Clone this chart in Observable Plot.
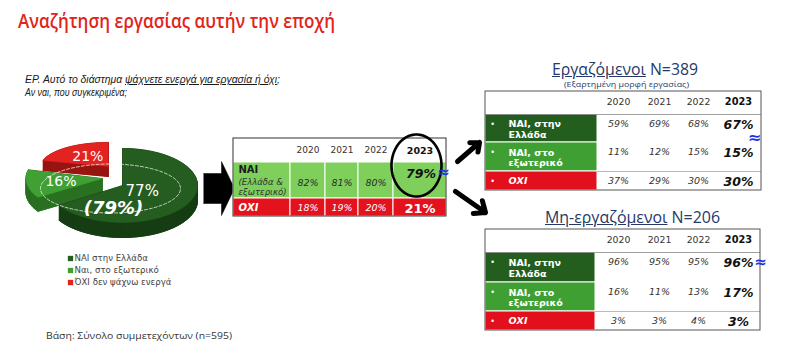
<!DOCTYPE html>
<html><head><meta charset="utf-8">
<script src="https://cdn.jsdelivr.net/npm/d3@7"></script>
<script src="https://cdn.jsdelivr.net/npm/@observablehq/plot@0.6"></script>
<style>
html,body{margin:0;padding:0;background:#fff;}
#wrap{position:relative;width:791px;height:354px;overflow:hidden;}
.t{position:absolute;white-space:nowrap;line-height:1;transform-origin:0 0;}
</style></head>
<body><div id="wrap"></div>
<script>
// ================= DATA =================
const titleText = "Αναζήτηση εργασίας αυτήν την εποχή";
const questionStart = "ΕΡ. Αυτό το διάστημα ";
const questionUnderlined = "ψάχνετε ενεργά για εργασία ή όχι";
const questionEnd = ";";
const questionLine2 = "Αν ναι, που συγκεκριμένα;";
const baseText = "Βάση: Σύνολο συμμετεχόντων (n=595)";

const pieCategories = ["ΝΑΙ στην Ελλάδα", "Ναι, στο εξωτερικό", "ΌΧΙ δεν ψάχνω ενεργά"];
const pieSlices = [66, 13, 21];
const pieLabels = ["77%", "16%", "21%"];
const pieTotalLabel = "(79%)";

const years = ["2020", "2021", "2022", "2023"];
const totalRowLabels = ["ΝΑΙ", "ΟΧΙ"];
const totalRowNotes = ["(Ελλάδα &\nεξωτερικό)", ""];
const totalYes = [82, 81, 80, 79];
const totalNo = [18, 19, 20, 21];

const employedTitle = "Εργαζόμενοι";
const employedN = " N=389";
const employedSub = "(Εξαρτημένη μορφή εργασίας)";
const nonEmployedTitle = "Μη-εργαζόμενοι";
const nonEmployedN = " N=206";
const groupRowLabels = ["ΝΑΙ, στην\nΕλλάδα", "ΝΑΙ, στο\nεξωτερικό", "ΟΧΙ"];
const employedGreece = [59, 69, 68, 67];
const employedAbroad = [11, 12, 15, 15];
const employedNo = [37, 29, 30, 30];
const nonEmployedGreece = [96, 95, 95, 96];
const nonEmployedAbroad = [16, 11, 13, 17];
const nonEmployedNo = [3, 3, 4, 3];
const approxSign = "≈";

// ================= LAYOUT / STYLE =================
const W = 791, H = 354;
const FONT = "DejaVu Sans";
const pieGeom = {cx: 122, cy: 185, rx: 75, ry: 37};
const pieTop = ["#245d1f", "#41a033", "#e2231f"];
const pieSide = ["#163d13", "#2a7021", "#981411"];
const pieExplode = [[0, 0], [-20, -7], [-14, -19]];
const pieScale = [[1, 1], [1.02, 0.95], [0.9, 0.65]];
const pieDepth = [15, 14, 10];
const pieLabelR = [0.3, 0.55, 0.5];
const pieLabelSize = [15, 14, 14];

const T = {xs: [233, 290, 325, 358, 393, 446], ys: [138, 162, 198, 216]};
const EMP = {x0: 485, xl: 597, x1: 761, ys: [91, 114, 142, 171, 190], cols: [618, 659, 698, 738]};
const NON = {x0: 485, xl: 595, x1: 760, ys: [229, 252, 282, 311, 330], cols: [618, 659, 698, 738]};
const groupFills = ["#235e1e", "#3f9f32", "#e1101c"];
const BLUE = "#1b33e6";

const marks = [];

// ---------- Pie (3D) ----------
function slicePolys() {
  const total = d3.sum(pieSlices);
  let acc = 0;
  return pieSlices.map((v, i) => {
    const a0 = acc / total * 2 * Math.PI; acc += v;
    const a1 = acc / total * 2 * Math.PI;
    const [dx, dy] = pieExplode[i], [sx, sy] = pieScale[i];
    const vx = pieGeom.cx + dx, vy = pieGeom.cy + dy;
    const n = Math.max(2, Math.ceil((a1 - a0) / (Math.PI / 90)));
    const pts = [[vx, vy]];
    for (let k = 0; k <= n; k++) {
      const a = a0 + (a1 - a0) * k / n;
      pts.push([vx + pieGeom.rx * sx * Math.sin(a), vy - pieGeom.ry * sy * Math.cos(a)]);
    }
    return {i, a0, a1, vx, vy, sx, sy, pts};
  });
}
function shadeRows(s) {
  const d = pieDepth[s.i], rows = [], P = s.pts, m = P.length;
  P.forEach(([x, y]) => rows.push({x, y: y + d, g: "b"}));
  for (let k = 0; k < m; k++) {
    const p = P[k], q = P[(k + 1) % m], g = "q" + k;
    rows.push({x: p[0], y: p[1], g}, {x: q[0], y: q[1], g}, {x: q[0], y: q[1] + d, g}, {x: p[0], y: p[1] + d, g});
  }
  return rows;
}
const slices = slicePolys();
[2, 1, 0].forEach(i => {
  const s = slices[i];
  marks.push(Plot.line(shadeRows(s), {x: "x", y: "y", z: "g", fill: pieSide[i], stroke: pieSide[i], strokeWidth: 0.8}));
  marks.push(Plot.line(s.pts.map(([x, y]) => ({x, y})), {x: "x", y: "y", fill: pieTop[i], stroke: pieTop[i], strokeWidth: 0.5}));
});
// dashed ring on the pie
const ring = d3.range(0, 361, 2).map(a => ({x: 110 + 70 * Math.sin(a * Math.PI / 180), y: 188 - 24.5 * Math.cos(a * Math.PI / 180)}));
marks.push(Plot.line(ring, {x: "x", y: "y", stroke: "#fff", strokeWidth: 0.8, strokeDasharray: "3,2", strokeOpacity: 0.9}));
// slice labels
slices.forEach((s, i) => {
  const m = (s.a0 + s.a1) / 2;
  marks.push(Plot.text([pieLabels[i]], {
    x: () => s.vx + pieGeom.rx * s.sx * pieLabelR[i] * Math.sin(m),
    y: () => s.vy - pieGeom.ry * s.sy * pieLabelR[i] * Math.cos(m),
    text: d => d, fill: "#fff", fontSize: pieLabelSize[i], fontFamily: FONT
  }));
});
marks.push(Plot.text([pieTotalLabel], {x: () => pieGeom.cx - 9, y: () => pieGeom.cy + 23, text: d => d, fill: "#fff", fontSize: 18, fontWeight: "bold", fontStyle: "italic", fontFamily: FONT}));
// legend
const legendRows = pieCategories.map((c, i) => ({c, i}));
marks.push(Plot.dot(legendRows, {x: () => 70, y: d => 258 + d.i * 12, symbol: "square", r: 3, fill: d => pieTop[d.i], stroke: null}));
marks.push(Plot.text(legendRows, {x: () => 74, y: d => 258 + d.i * 12, text: "c", textAnchor: "start", fill: "#444", fontSize: 8.6, fontFamily: FONT}));

// ---------- big block arrow ----------
const BA = {x0: 203, xn: 221, xt: 234, yc: 188, sh: 15, hh: 27};
const bigArrow = [[BA.x0, BA.yc - BA.sh], [BA.xn, BA.yc - BA.sh], [BA.xn, BA.yc - BA.hh], [BA.xt, BA.yc], [BA.xn, BA.yc + BA.hh], [BA.xn, BA.yc + BA.sh], [BA.x0, BA.yc + BA.sh]].map(([x, y]) => ({x, y}));
marks.push(Plot.line(bigArrow, {x: "x", y: "y", fill: "#000", stroke: "#000", strokeWidth: 0.5}));

// ---------- overall table ----------
const totalRows = [
  {label: totalRowLabels[0], note: totalRowNotes[0], values: totalYes, fill: "#7ecf5c", text: "#2a2a2a", last: "#111"},
  {label: totalRowLabels[1], note: totalRowNotes[1], values: totalNo, fill: "#e3121d", text: "#fff", last: "#fff"}
];
const colC = c => (T.xs[c + 1] + T.xs[c + 2]) / 2;
const tCells = [];
totalRows.forEach((r, ri) => { for (let c = 0; c < 5; c++) tCells.push({x1: T.xs[c], x2: T.xs[c + 1], y1: T.ys[ri + 1], y2: T.ys[ri + 2], fill: r.fill}); });
marks.push(Plot.rect(tCells, {x1: "x1", x2: "x2", y1: "y1", y2: "y2", fill: "fill", stroke: "#fff", strokeWidth: 1}));
marks.push(Plot.rect([T], {x1: d => d.xs[0], x2: d => d.xs[5], y1: d => d.ys[0], y2: d => d.ys[3], fill: "none", stroke: "#333", strokeWidth: 1}));
const tHead = years.map((y, c) => ({y, c}));
marks.push(Plot.text(tHead.slice(0, 3), {x: d => colC(d.c), y: () => 150, text: "y", fill: "#333", fontSize: 9, fontFamily: FONT}));
marks.push(Plot.text(tHead.slice(3), {x: d => colC(d.c), y: () => 150, text: "y", fill: "#111", fontSize: 9.5, fontWeight: "bold", fontFamily: FONT}));
marks.push(Plot.text([totalRows[0]], {x: () => T.xs[0] + 5, y: () => 169, text: "label", textAnchor: "start", fill: "#1b1b1b", fontSize: 10, fontWeight: "bold", fontFamily: FONT}));
marks.push(Plot.text([totalRows[0]], {x: () => T.xs[0] + 5, y: () => 186, text: "note", textAnchor: "start", fill: "#333", fontSize: 8.5, fontStyle: "italic", lineHeight: 1.15, fontFamily: FONT}));
marks.push(Plot.text([totalRows[1]], {x: () => T.xs[0] + 5, y: () => 207, text: "label", textAnchor: "start", fill: "#fff", fontSize: 10, fontWeight: "bold", fontStyle: "italic", fontFamily: FONT}));
const tVals = [];
totalRows.forEach((r, ri) => r.values.forEach((v, c) => tVals.push({v, c, ri, color: c === 3 ? r.last : r.text})));
marks.push(Plot.text(tVals.filter(d => d.c < 3), {x: d => colC(d.c), y: d => d.ri === 0 ? 182 : 207, text: d => d.v + "%", fill: "color", fontSize: 9.5, fontStyle: "italic", fontFamily: FONT}));
marks.push(Plot.text(tVals.filter(d => d.c === 3 && d.ri === 0), {x: d => colC(d.c) + 1, y: () => 173, text: d => d.v + "%", fill: "color", fontSize: 12.5, fontWeight: "bold", fontStyle: "italic", fontFamily: FONT}));
marks.push(Plot.text(tVals.filter(d => d.c === 3 && d.ri === 1), {x: d => colC(d.c), y: () => 208, text: d => d.v + "%", fill: "color", fontSize: 13, fontWeight: "bold", fontFamily: FONT}));
// highlight ring around 2023
const hl = d3.range(0, 361, 3).map(a => ({x: 416 + 25 * Math.sin(a * Math.PI / 180), y: 165 - 31 * Math.cos(a * Math.PI / 180)}));
marks.push(Plot.line(hl, {x: "x", y: "y", stroke: "#000", strokeWidth: 2.6}));
marks.push(Plot.text([approxSign], {x: () => 443, y: () => 172, text: d => d, fill: BLUE, fontSize: 15, fontWeight: "bold", fontFamily: FONT}));

// ---------- connecting arrows ----------
marks.push(Plot.arrow([{x1: 457, y1: 161, x2: 479, y2: 142}, {x1: 455, y1: 191, x2: 485, y2: 212}], {x1: "x1", y1: "y1", x2: "x2", y2: "y2", stroke: "#000", strokeWidth: 5, headLength: 10, headAngle: 80}));

// ---------- group tables ----------
function groupTable(L, series, approxPos) {
  const rows = series.map((vals, r) => ({r, vals, label: groupRowLabels[r], fill: groupFills[r], top: L.ys[r + 1], bot: L.ys[r + 2]}));
  marks.push(Plot.rect(rows, {x1: () => L.x0, x2: () => L.xl, y1: "top", y2: "bot", fill: "fill", stroke: "#fff", strokeWidth: 1}));
  marks.push(Plot.ruleY([L.ys[1]], {x1: L.x0, x2: L.x1, stroke: "#888", strokeWidth: 0.8}));
  marks.push(Plot.ruleY([L.ys[3]], {x1: L.xl, x2: L.x1, stroke: "#aaa", strokeWidth: 0.8}));
  marks.push(Plot.rect([L], {x1: d => d.x0, x2: d => d.x1, y1: d => d.ys[0], y2: d => d.ys[4], fill: "none", stroke: "#555", strokeWidth: 1}));
  const head = years.map((y, c) => ({y, c}));
  const hy = (L.ys[0] + L.ys[1]) / 2 - 1;
  marks.push(Plot.text(head.slice(0, 3), {x: d => L.cols[d.c], y: () => hy, text: "y", fill: "#333", fontSize: 9.3, fontFamily: FONT}));
  marks.push(Plot.text(head.slice(3), {x: d => L.cols[d.c], y: () => hy, text: "y", fill: "#111", fontSize: 9.8, fontWeight: "bold", fontFamily: FONT}));
  marks.push(Plot.text(rows, {x: () => L.x0 + 7, y: d => d.top + 9.5, text: () => "•", fill: "#fff", fontSize: 8, fontFamily: FONT}));
  marks.push(Plot.text(rows.slice(0, 2), {x: () => L.x0 + 23, y: d => (d.top + d.bot) / 2 + 0.5, text: "label", textAnchor: "start", fill: "#fff", fontSize: 9.5, fontWeight: "bold", lineHeight: 1.15, fontFamily: FONT}));
  marks.push(Plot.text(rows.slice(2), {x: () => L.x0 + 23, y: d => (d.top + d.bot) / 2, text: "label", textAnchor: "start", fill: "#fff", fontSize: 9.5, fontWeight: "bold", fontStyle: "italic", fontFamily: FONT}));
  const vals = [];
  rows.forEach(row => row.vals.forEach((v, c) => vals.push({v, c, y: row.top + 9.5})));
  marks.push(Plot.text(vals.filter(d => d.c < 3), {x: d => L.cols[d.c], y: "y", text: d => d.v + "%", fill: "#333", fontSize: 9.5, fontStyle: "italic", fontFamily: FONT}));
  marks.push(Plot.text(vals.filter(d => d.c === 3), {x: d => L.cols[d.c], y: d => d.y + 0.5, text: d => d.v + "%", fill: "#111", fontSize: 12.5, fontWeight: "bold", fontStyle: "italic", fontFamily: FONT}));
  marks.push(Plot.text([approxSign], {x: () => approxPos[0], y: () => approxPos[1], text: d => d, fill: BLUE, fontSize: approxPos[2], fontWeight: "bold", fontFamily: FONT}));
}
groupTable(EMP, [employedGreece, employedAbroad, employedNo], [754, 137, 16]);
groupTable(NON, [nonEmployedGreece, nonEmployedAbroad, nonEmployedNo], [760, 262, 15]);

const chart = Plot.plot({
  width: W, height: H, margin: 0,
  x: {domain: [0, W], range: [0, W], axis: null},
  y: {domain: [0, H], range: [0, H], axis: null},
  color: {type: "identity"},
  style: {background: "none", fontFamily: FONT, overflow: "visible"},
  marks
});
chart.style.position = "absolute"; chart.style.left = "0"; chart.style.top = "0";
const wrap = document.getElementById("wrap");
wrap.appendChild(chart);

// ---------- HTML texts ----------
function addText(html, o) {
  const el = document.createElement("div");
  el.className = "t";
  el.innerHTML = html;
  Object.assign(el.style, {fontFamily: o.family, fontSize: o.size + "px", color: o.color, fontWeight: o.weight || "normal", fontStyle: o.style || "normal"});
  wrap.appendChild(el);
  const w = el.getBoundingClientRect().width;
  const k = o.width ? o.width / w : 1;
  const left = o.anchor === "middle" ? o.x - w * k / 2 : o.x;
  el.style.left = left + "px";
  el.style.top = (o.baseline - o.size * 0.88) + "px";
  el.style.transform = `scaleX(${k})`;
  return el;
}
addText(titleText, {x: 18, baseline: 28, size: 19.5, family: "Open Sans", weight: 600, color: "#e2231a", width: 317});
addText(`${questionStart}<u>${questionUnderlined}</u>${questionEnd}`, {x: 25, baseline: 84, size: 11.3, family: "Liberation Sans", style: "italic", color: "#1a1a1a", width: 255});
addText(questionLine2, {x: 25, baseline: 97, size: 11.3, family: "Liberation Sans", style: "italic", color: "#1a1a1a", width: 102});
addText(`<u>${employedTitle}</u>${employedN}`, {x: 625, anchor: "middle", baseline: 75, size: 16, family: "Open Sans", color: "#24386a", width: 146});
addText(employedSub, {x: 626, anchor: "middle", baseline: 88, size: 7.8, family: "Open Sans", color: "#24386a", width: 125});
addText(`<u>${nonEmployedTitle}</u>${nonEmployedN}`, {x: 632, anchor: "middle", baseline: 223, size: 16, family: "Open Sans", color: "#24386a", width: 175});
addText(baseText, {x: 46, baseline: 340, size: 9.8, family: "Open Sans", color: "#333", width: 186});
</script>
</body></html>
